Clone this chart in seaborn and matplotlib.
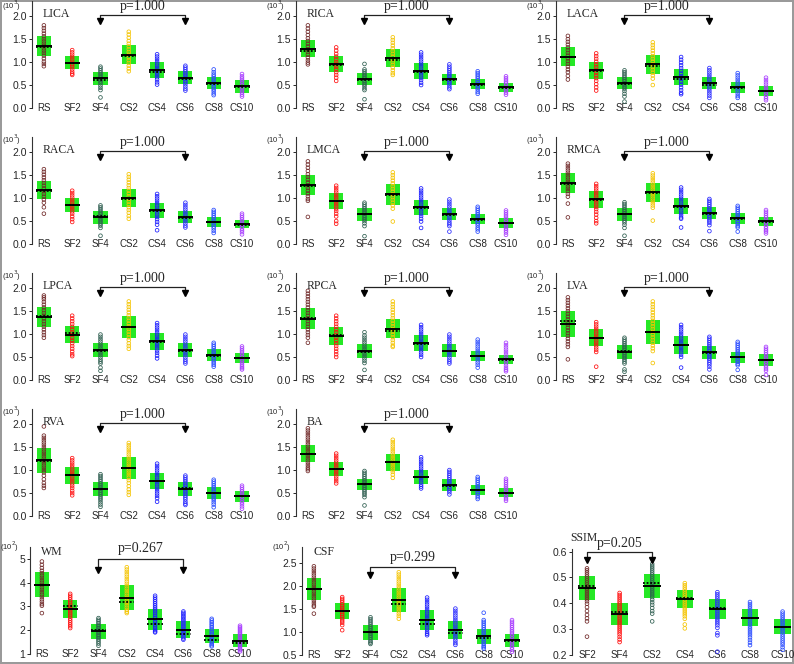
import numpy as np
import pandas as pd
import matplotlib
matplotlib.use("Agg")
import matplotlib.pyplot as plt
import seaborn as sns

sns.set_theme(style="white")
plt.rcParams["font.family"] = ["Liberation Sans", "DejaVu Sans"]

# ---------------- data ----------------
GROUPS = ["RS", "SF2", "SF4", "CS2", "CS4", "CS6", "CS8", "CS10"]
SSIM_GROUPS = ["SF2", "SF4", "CS2", "CS4", "CS6", "CS8", "CS10"]
GROUP_COLORS = ["#702828", "#ff1010", "#2e5e50", "#f5c400", "#1a1aff", "#2a2aff", "#2a4cff", "#a83cff"]
SSIM_COLORS = ["#702828", "#ff1010", "#2e5e50", "#f5c400", "#2a2aff", "#2a4cff", "#2a4cff"]

LICA_mean = [1.35, 0.99, 0.65, 1.16, 0.83, 0.66, 0.55, 0.47]
LICA_sd = [0.22, 0.15, 0.14, 0.21, 0.17, 0.14, 0.13, 0.135]
LICA_median = [1.33, 0.98, 0.62, 1.13, 0.79, 0.63, 0.52, 0.45]
LICA_points = [
    [1.80, 1.74, 1.68, 1.62, 1.56, 1.50, 1.45, 1.40, 1.35, 1.30, 1.25, 1.20, 1.14, 1.08, 1.01, 0.96, 0.91],
    [1.26, 1.21, 1.16, 1.11, 1.06, 1.01, 0.97, 0.93, 0.89, 0.84, 0.79, 0.75, 0.72],
    [0.90, 0.86, 0.82, 0.78, 0.74, 0.70, 0.66, 0.62, 0.58, 0.54, 0.49, 0.44, 0.39, 0.23],
    [1.66, 1.60, 1.53, 1.46, 1.40, 1.34, 1.28, 1.22, 1.16, 1.10, 1.04, 0.98, 0.92, 0.86, 0.80],
    [1.17, 1.12, 1.07, 1.02, 0.97, 0.92, 0.87, 0.82, 0.77, 0.72, 0.67, 0.62, 0.56, 0.51],
    [0.92, 0.88, 0.84, 0.80, 0.76, 0.72, 0.68, 0.64, 0.60, 0.56, 0.52, 0.47, 0.42, 0.38],
    [0.84, 0.78, 0.73, 0.69, 0.65, 0.61, 0.57, 0.53, 0.49, 0.45, 0.41, 0.37, 0.32, 0.28],
    [0.74, 0.69, 0.65, 0.61, 0.57, 0.53, 0.49, 0.45, 0.41, 0.37, 0.33, 0.29, 0.25],
]

RICA_mean = [1.29, 0.96, 0.63, 1.09, 0.80, 0.63, 0.52, 0.45]
RICA_sd = [0.185, 0.17, 0.125, 0.20, 0.17, 0.12, 0.105, 0.105]
RICA_median = [1.25, 0.94, 0.62, 1.05, 0.78, 0.60, 0.50, 0.44]
RICA_points = [
    [1.80, 1.73, 1.66, 1.59, 1.52, 1.46, 1.40, 1.34, 1.28, 1.22, 1.16, 1.10, 1.04, 0.99, 0.95],
    [1.32, 1.25, 1.18, 1.12, 1.06, 1.00, 0.95, 0.90, 0.84, 0.78, 0.72, 0.66, 0.59],
    [0.96, 0.84, 0.80, 0.76, 0.72, 0.68, 0.64, 0.60, 0.56, 0.52, 0.48, 0.43, 0.39, 0.19],
    [1.54, 1.48, 1.42, 1.36, 1.30, 1.24, 1.18, 1.12, 1.06, 1.00, 0.94, 0.88, 0.82, 0.76, 0.72],
    [1.21, 1.16, 1.11, 1.06, 1.01, 0.96, 0.91, 0.86, 0.81, 0.76, 0.71, 0.66, 0.61, 0.55, 0.50],
    [0.95, 0.90, 0.86, 0.82, 0.78, 0.74, 0.70, 0.66, 0.62, 0.58, 0.54, 0.50, 0.45, 0.41],
    [0.80, 0.76, 0.72, 0.68, 0.64, 0.60, 0.56, 0.52, 0.48, 0.44, 0.40, 0.35, 0.31],
    [0.69, 0.65, 0.61, 0.57, 0.53, 0.49, 0.45, 0.41, 0.37, 0.33, 0.29],
]

LACA_mean = [1.12, 0.82, 0.54, 0.95, 0.68, 0.54, 0.45, 0.37]
LACA_sd = [0.205, 0.18, 0.135, 0.20, 0.18, 0.135, 0.125, 0.11]
LACA_median = [1.10, 0.80, 0.52, 0.91, 0.64, 0.50, 0.44, 0.36]
LACA_points = [
    [1.57, 1.50, 1.44, 1.38, 1.32, 1.26, 1.20, 1.14, 1.08, 1.02, 0.96, 0.90, 0.84, 0.78, 0.70, 0.62],
    [1.19, 1.13, 1.07, 1.01, 0.95, 0.89, 0.83, 0.77, 0.71, 0.65, 0.59, 0.52, 0.45, 0.38],
    [0.82, 0.78, 0.74, 0.70, 0.66, 0.62, 0.58, 0.54, 0.50, 0.46, 0.42, 0.37, 0.31, 0.25, 0.14],
    [1.43, 1.37, 1.31, 1.25, 1.19, 1.13, 1.07, 1.01, 0.95, 0.89, 0.83, 0.77, 0.71, 0.64, 0.50],
    [1.11, 1.05, 0.99, 0.93, 0.87, 0.81, 0.75, 0.69, 0.63, 0.57, 0.51, 0.45, 0.39, 0.33, 0.30],
    [0.87, 0.82, 0.77, 0.72, 0.67, 0.62, 0.57, 0.52, 0.47, 0.42, 0.37, 0.32, 0.27, 0.22],
    [0.76, 0.71, 0.66, 0.61, 0.56, 0.51, 0.46, 0.41, 0.36, 0.31, 0.26, 0.22],
    [0.66, 0.61, 0.56, 0.51, 0.46, 0.41, 0.37, 0.33, 0.29, 0.25, 0.21, 0.17],
]

RACA_mean = [1.17, 0.85, 0.58, 1.00, 0.73, 0.59, 0.48, 0.43]
RACA_sd = [0.195, 0.16, 0.135, 0.205, 0.17, 0.135, 0.115, 0.09]
RACA_median = [1.15, 0.84, 0.60, 0.99, 0.71, 0.56, 0.47, 0.41]
RACA_points = [
    [1.63, 1.57, 1.51, 1.45, 1.39, 1.33, 1.27, 1.21, 1.15, 1.09, 1.03, 0.97, 0.90, 0.80, 0.66],
    [1.16, 1.11, 1.06, 1.01, 0.96, 0.91, 0.86, 0.81, 0.76, 0.71, 0.66, 0.60, 0.54, 0.48],
    [0.84, 0.80, 0.76, 0.72, 0.68, 0.64, 0.60, 0.56, 0.52, 0.48, 0.44, 0.40, 0.35, 0.18],
    [1.52, 1.46, 1.40, 1.34, 1.28, 1.22, 1.16, 1.10, 1.04, 0.98, 0.92, 0.86, 0.80, 0.74, 0.68, 0.61, 0.55],
    [1.09, 1.04, 0.99, 0.94, 0.89, 0.84, 0.79, 0.74, 0.69, 0.64, 0.59, 0.54, 0.48, 0.42, 0.30],
    [0.90, 0.85, 0.80, 0.75, 0.70, 0.65, 0.60, 0.55, 0.50, 0.45, 0.40, 0.36],
    [0.74, 0.70, 0.66, 0.62, 0.58, 0.54, 0.50, 0.46, 0.42, 0.38, 0.34, 0.29, 0.24],
    [0.66, 0.62, 0.58, 0.54, 0.50, 0.46, 0.42, 0.38, 0.34, 0.30, 0.26, 0.21],
]

LMCA_mean = [1.28, 0.93, 0.65, 1.08, 0.80, 0.65, 0.54, 0.46]
LMCA_sd = [0.22, 0.17, 0.14, 0.22, 0.165, 0.135, 0.105, 0.105]
LMCA_median = [1.27, 0.93, 0.65, 1.07, 0.78, 0.63, 0.53, 0.45]
LMCA_points = [
    [1.80, 1.73, 1.66, 1.59, 1.52, 1.46, 1.40, 1.34, 1.28, 1.22, 1.16, 1.10, 1.04, 0.98, 0.94, 0.59],
    [1.27, 1.22, 1.17, 1.12, 1.07, 1.02, 0.97, 0.92, 0.87, 0.82, 0.77, 0.72, 0.66, 0.60, 0.50, 0.44],
    [0.90, 0.86, 0.82, 0.78, 0.74, 0.70, 0.66, 0.62, 0.58, 0.54, 0.50, 0.45, 0.39, 0.17],
    [1.56, 1.50, 1.44, 1.38, 1.32, 1.26, 1.20, 1.14, 1.08, 1.02, 0.96, 0.90, 0.84, 0.77, 0.49],
    [1.21, 1.16, 1.11, 1.06, 1.01, 0.96, 0.91, 0.86, 0.81, 0.76, 0.71, 0.66, 0.61, 0.55, 0.49, 0.35],
    [0.97, 0.92, 0.87, 0.82, 0.77, 0.72, 0.67, 0.62, 0.57, 0.52, 0.47, 0.43, 0.39, 0.27],
    [0.81, 0.77, 0.73, 0.69, 0.65, 0.61, 0.57, 0.53, 0.49, 0.45, 0.41, 0.36, 0.32, 0.27],
    [0.73, 0.69, 0.65, 0.61, 0.57, 0.53, 0.49, 0.45, 0.41, 0.37, 0.33, 0.29, 0.25, 0.20],
]

RMCA_mean = [1.33, 0.97, 0.65, 1.13, 0.83, 0.67, 0.56, 0.49]
RMCA_sd = [0.21, 0.18, 0.14, 0.205, 0.17, 0.125, 0.115, 0.10]
RMCA_median = [1.31, 0.95, 0.65, 1.10, 0.80, 0.65, 0.55, 0.48]
RMCA_points = [
    [1.75, 1.70, 1.65, 1.60, 1.55, 1.50, 1.45, 1.40, 1.35, 1.30, 1.25, 1.20, 1.15, 1.09, 1.03, 0.88, 0.58],
    [1.31, 1.26, 1.21, 1.16, 1.11, 1.06, 1.01, 0.96, 0.91, 0.86, 0.81, 0.76, 0.70, 0.64, 0.57, 0.50, 0.45],
    [0.91, 0.87, 0.83, 0.79, 0.75, 0.71, 0.67, 0.63, 0.59, 0.55, 0.51, 0.47, 0.42, 0.35, 0.18],
    [1.54, 1.49, 1.44, 1.39, 1.34, 1.29, 1.24, 1.19, 1.14, 1.09, 1.04, 0.99, 0.94, 0.89, 0.84, 0.79, 0.51],
    [1.23, 1.18, 1.13, 1.08, 1.03, 0.98, 0.93, 0.88, 0.83, 0.78, 0.73, 0.68, 0.63, 0.58, 0.55, 0.36],
    [0.98, 0.94, 0.90, 0.86, 0.82, 0.78, 0.74, 0.70, 0.66, 0.62, 0.58, 0.54, 0.50, 0.46, 0.41, 0.28],
    [0.83, 0.79, 0.75, 0.71, 0.67, 0.63, 0.59, 0.55, 0.51, 0.47, 0.43, 0.39, 0.36, 0.27],
    [0.74, 0.70, 0.66, 0.62, 0.58, 0.54, 0.50, 0.46, 0.42, 0.38, 0.34, 0.30, 0.27, 0.23],
]

LPCA_mean = [1.37, 0.99, 0.65, 1.16, 0.84, 0.66, 0.55, 0.47]
LPCA_sd = [0.22, 0.18, 0.16, 0.24, 0.18, 0.155, 0.13, 0.11]
LPCA_median = [1.39, 1.03, 0.63, 1.15, 0.82, 0.64, 0.53, 0.47]
LPCA_points = [
    [1.84, 1.80, 1.76, 1.70, 1.64, 1.58, 1.52, 1.46, 1.40, 1.34, 1.28, 1.22, 1.16, 1.10, 1.04, 0.98, 0.92],
    [1.40, 1.34, 1.28, 1.22, 1.16, 1.10, 1.04, 0.98, 0.92, 0.86, 0.80, 0.74, 0.68, 0.62, 0.56, 0.52],
    [0.99, 0.94, 0.89, 0.84, 0.79, 0.74, 0.69, 0.64, 0.59, 0.54, 0.49, 0.44, 0.40, 0.36, 0.27, 0.20],
    [1.71, 1.65, 1.59, 1.53, 1.47, 1.41, 1.35, 1.29, 1.23, 1.17, 1.11, 1.05, 0.99, 0.93, 0.87, 0.80, 0.74, 0.68],
    [1.24, 1.19, 1.14, 1.09, 1.04, 0.99, 0.94, 0.89, 0.84, 0.79, 0.74, 0.69, 0.64, 0.59, 0.53, 0.47],
    [0.99, 0.94, 0.89, 0.84, 0.79, 0.74, 0.69, 0.64, 0.59, 0.54, 0.49, 0.44, 0.40, 0.36],
    [0.81, 0.77, 0.73, 0.69, 0.65, 0.61, 0.57, 0.53, 0.49, 0.45, 0.41, 0.37, 0.33, 0.29],
    [0.73, 0.69, 0.65, 0.61, 0.57, 0.53, 0.49, 0.45, 0.41, 0.37, 0.33, 0.29, 0.26, 0.23],
]

RPCA_mean = [1.33, 0.95, 0.63, 1.12, 0.80, 0.64, 0.52, 0.45]
RPCA_sd = [0.23, 0.195, 0.15, 0.215, 0.17, 0.14, 0.11, 0.10]
RPCA_median = [1.35, 0.97, 0.62, 1.06, 0.79, 0.63, 0.52, 0.44]
RPCA_points = [
    [1.94, 1.88, 1.82, 1.76, 1.70, 1.64, 1.58, 1.52, 1.46, 1.40, 1.34, 1.28, 1.22, 1.16, 1.10, 1.04, 0.98, 0.92, 0.81],
    [1.40, 1.34, 1.28, 1.22, 1.16, 1.10, 1.04, 0.98, 0.92, 0.86, 0.80, 0.74, 0.68, 0.62, 0.56, 0.50],
    [1.04, 0.97, 0.92, 0.87, 0.82, 0.77, 0.72, 0.67, 0.62, 0.57, 0.52, 0.47, 0.42, 0.37, 0.22],
    [1.71, 1.65, 1.59, 1.53, 1.47, 1.41, 1.35, 1.29, 1.23, 1.17, 1.11, 1.05, 0.99, 0.93, 0.87, 0.81, 0.75, 0.72],
    [1.20, 1.15, 1.10, 1.05, 1.00, 0.95, 0.90, 0.85, 0.80, 0.75, 0.70, 0.65, 0.60, 0.55, 0.50],
    [0.99, 0.94, 0.89, 0.84, 0.79, 0.74, 0.69, 0.64, 0.59, 0.54, 0.49, 0.44, 0.40, 0.36],
    [0.88, 0.83, 0.78, 0.73, 0.68, 0.63, 0.58, 0.53, 0.48, 0.43, 0.38, 0.33, 0.27],
    [0.81, 0.76, 0.71, 0.66, 0.61, 0.56, 0.51, 0.46, 0.41, 0.36, 0.31, 0.26, 0.22, 0.19],
]

LVA_mean = [1.22, 0.92, 0.61, 1.04, 0.76, 0.60, 0.50, 0.43]
LVA_sd = [0.28, 0.185, 0.16, 0.26, 0.19, 0.145, 0.12, 0.13]
LVA_median = [1.29, 0.92, 0.63, 1.04, 0.76, 0.58, 0.50, 0.43]
LVA_points = [
    [1.80, 1.74, 1.68, 1.62, 1.56, 1.50, 1.44, 1.38, 1.32, 1.26, 1.20, 1.14, 1.08, 1.02, 0.96, 0.90, 0.84, 0.78, 0.72, 0.45],
    [1.26, 1.21, 1.16, 1.11, 1.06, 1.01, 0.96, 0.91, 0.86, 0.81, 0.76, 0.71, 0.66, 0.61, 0.29],
    [0.92, 0.88, 0.84, 0.80, 0.76, 0.72, 0.68, 0.64, 0.60, 0.56, 0.52, 0.48, 0.44, 0.40, 0.36, 0.23, 0.18],
    [1.71, 1.65, 1.59, 1.53, 1.47, 1.41, 1.35, 1.29, 1.23, 1.17, 1.11, 1.05, 0.99, 0.93, 0.87, 0.81, 0.75, 0.69, 0.63, 0.37],
    [1.20, 1.15, 1.10, 1.05, 1.00, 0.95, 0.90, 0.85, 0.80, 0.75, 0.70, 0.65, 0.60, 0.55, 0.50, 0.27],
    [0.94, 0.90, 0.86, 0.82, 0.78, 0.74, 0.70, 0.66, 0.62, 0.58, 0.54, 0.50, 0.46, 0.42, 0.38, 0.34, 0.29, 0.23],
    [0.83, 0.79, 0.75, 0.71, 0.67, 0.63, 0.59, 0.55, 0.51, 0.47, 0.43, 0.39, 0.35, 0.32, 0.22],
    [0.72, 0.68, 0.64, 0.60, 0.56, 0.52, 0.48, 0.44, 0.40, 0.36, 0.32, 0.28, 0.24, 0.20, 0.11],
]

RVA_mean = [1.21, 0.89, 0.59, 1.04, 0.76, 0.59, 0.50, 0.43]
RVA_sd = [0.27, 0.185, 0.16, 0.24, 0.18, 0.145, 0.13, 0.125]
RVA_median = [1.20, 0.89, 0.59, 1.04, 0.77, 0.61, 0.51, 0.44]
RVA_points = [
    [1.95, 1.75, 1.70, 1.65, 1.60, 1.55, 1.50, 1.45, 1.40, 1.35, 1.30, 1.25, 1.20, 1.15, 1.10, 1.05, 1.00, 0.95, 0.88, 0.80, 0.72, 0.66, 0.61],
    [1.26, 1.21, 1.16, 1.11, 1.06, 1.01, 0.96, 0.91, 0.86, 0.81, 0.76, 0.71, 0.66, 0.61, 0.55, 0.50, 0.45],
    [0.91, 0.87, 0.83, 0.79, 0.75, 0.71, 0.67, 0.63, 0.59, 0.55, 0.51, 0.47, 0.43, 0.39, 0.35, 0.30, 0.25, 0.20],
    [1.59, 1.54, 1.49, 1.44, 1.39, 1.34, 1.29, 1.24, 1.19, 1.14, 1.09, 1.04, 0.99, 0.94, 0.89, 0.84, 0.78, 0.72, 0.65, 0.58, 0.52, 0.46],
    [1.14, 1.09, 1.04, 0.99, 0.94, 0.89, 0.84, 0.79, 0.74, 0.69, 0.64, 0.59, 0.54, 0.49, 0.44, 0.39, 0.31],
    [0.88, 0.84, 0.80, 0.76, 0.72, 0.68, 0.64, 0.60, 0.56, 0.52, 0.48, 0.44, 0.40, 0.36, 0.31, 0.27, 0.24],
    [0.79, 0.75, 0.71, 0.67, 0.63, 0.59, 0.55, 0.51, 0.47, 0.43, 0.39, 0.35, 0.30, 0.25, 0.19],
    [0.66, 0.62, 0.58, 0.54, 0.50, 0.46, 0.42, 0.38, 0.34, 0.30, 0.26, 0.21, 0.16],
]

BA_mean = [1.36, 1.02, 0.69, 1.17, 0.85, 0.68, 0.57, 0.51]
BA_sd = [0.19, 0.15, 0.125, 0.185, 0.155, 0.125, 0.105, 0.105]
BA_median = [1.34, 1.02, 0.69, 1.17, 0.85, 0.66, 0.57, 0.51]
BA_points = [
    [1.91, 1.86, 1.81, 1.76, 1.71, 1.66, 1.61, 1.56, 1.51, 1.46, 1.41, 1.36, 1.31, 1.26, 1.21, 1.16, 1.11, 1.06, 1.02, 0.98],
    [1.36, 1.31, 1.26, 1.21, 1.16, 1.11, 1.06, 1.01, 0.96, 0.91, 0.86, 0.81, 0.76, 0.71],
    [0.98, 0.94, 0.90, 0.86, 0.82, 0.78, 0.74, 0.70, 0.66, 0.62, 0.58, 0.54, 0.50, 0.46, 0.41, 0.23],
    [1.66, 1.61, 1.56, 1.51, 1.46, 1.41, 1.36, 1.31, 1.26, 1.21, 1.16, 1.11, 1.06, 1.01, 0.96, 0.90, 0.83],
    [1.28, 1.23, 1.18, 1.13, 1.08, 1.03, 0.98, 0.93, 0.88, 0.83, 0.78, 0.73, 0.68, 0.64, 0.60],
    [1.00, 0.96, 0.92, 0.88, 0.84, 0.80, 0.76, 0.72, 0.68, 0.64, 0.60, 0.56, 0.52, 0.47],
    [0.85, 0.81, 0.77, 0.73, 0.69, 0.65, 0.61, 0.57, 0.53, 0.49, 0.45, 0.41, 0.37],
    [0.81, 0.77, 0.73, 0.69, 0.65, 0.61, 0.57, 0.53, 0.49, 0.45, 0.41, 0.37, 0.33],
]

WM_mean = [3.91, 2.89, 1.95, 3.37, 2.46, 2.02, 1.75, 1.56]
WM_sd = [0.52, 0.385, 0.315, 0.54, 0.44, 0.35, 0.295, 0.28]
WM_median = [3.91, 3.00, 2.02, 3.17, 2.26, 1.85, 1.60, 1.46]
WM_points = [
    [4.89, 4.75, 4.62, 4.50, 4.40, 4.30, 4.20, 4.10, 4.00, 3.90, 3.80, 3.70, 3.60, 3.50, 3.40, 3.30, 3.20, 3.10, 3.03, 2.72],
    [3.53, 3.45, 3.37, 3.29, 3.21, 3.13, 3.05, 2.97, 2.89, 2.81, 2.73, 2.65, 2.57, 2.49, 2.41, 2.33, 2.25, 2.17, 2.09],
    [2.51, 2.44, 2.37, 2.30, 2.23, 2.16, 2.09, 2.02, 1.95, 1.88, 1.81, 1.74, 1.67, 1.60, 1.52, 1.44, 1.35],
    [4.65, 4.55, 4.45, 4.35, 4.25, 4.15, 4.05, 3.95, 3.85, 3.75, 3.65, 3.55, 3.45, 3.35, 3.25, 3.15, 3.05, 2.95, 2.85, 2.78, 2.72],
    [3.45, 3.37, 3.29, 3.21, 3.13, 3.05, 2.97, 2.89, 2.81, 2.73, 2.65, 2.57, 2.49, 2.41, 2.33, 2.25, 2.17, 2.09, 2.01, 1.95, 1.91],
    [2.79, 2.73, 2.67, 2.61, 2.55, 2.49, 2.43, 2.37, 2.31, 2.25, 2.19, 2.13, 2.07, 2.01, 1.95, 1.89, 1.83, 1.77, 1.71, 1.65, 1.60],
    [2.48, 2.41, 2.34, 2.27, 2.20, 2.13, 2.06, 1.99, 1.92, 1.85, 1.78, 1.71, 1.64, 1.57, 1.50, 1.43, 1.37, 1.32],
    [2.19, 2.13, 2.07, 2.01, 1.95, 1.89, 1.83, 1.77, 1.71, 1.65, 1.59, 1.53, 1.47, 1.41, 1.35, 1.29, 1.23, 1.17, 1.11],
]

CSF_mean = [1.94, 1.46, 0.99, 1.69, 1.26, 1.04, 0.91, 0.82]
CSF_sd = [0.235, 0.17, 0.155, 0.26, 0.225, 0.19, 0.165, 0.145]
CSF_median = [1.94, 1.45, 0.99, 1.60, 1.17, 0.97, 0.86, 0.81]
CSF_points = [
    [2.43, 2.38, 2.33, 2.28, 2.23, 2.18, 2.13, 2.08, 2.03, 1.98, 1.93, 1.88, 1.83, 1.78, 1.73, 1.68, 1.63, 1.58, 1.55, 1.40],
    [1.76, 1.72, 1.68, 1.64, 1.60, 1.56, 1.52, 1.48, 1.44, 1.40, 1.36, 1.32, 1.28, 1.24, 1.20, 1.15, 1.04],
    [1.32, 1.28, 1.24, 1.20, 1.16, 1.12, 1.08, 1.04, 1.00, 0.96, 0.92, 0.88, 0.84, 0.80, 0.77, 0.74],
    [2.30, 2.25, 2.20, 2.15, 2.10, 2.05, 2.00, 1.95, 1.90, 1.85, 1.80, 1.75, 1.70, 1.65, 1.60, 1.55, 1.50, 1.45, 1.40, 1.35, 1.29],
    [1.75, 1.70, 1.65, 1.60, 1.55, 1.50, 1.45, 1.40, 1.35, 1.30, 1.25, 1.20, 1.15, 1.10, 1.05, 1.00, 0.96, 0.93],
    [1.51, 1.46, 1.41, 1.36, 1.31, 1.26, 1.21, 1.16, 1.11, 1.06, 1.01, 0.96, 0.91, 0.86, 0.81, 0.76, 0.72],
    [1.42, 1.26, 1.22, 1.18, 1.14, 1.10, 1.06, 1.02, 0.98, 0.94, 0.90, 0.86, 0.82, 0.78, 0.74, 0.70, 0.67, 0.64],
    [1.26, 1.22, 1.18, 1.14, 1.10, 1.06, 1.02, 0.98, 0.94, 0.90, 0.86, 0.82, 0.78, 0.74, 0.70, 0.66, 0.62, 0.57],
]

SSIM_mean = [0.458, 0.359, 0.467, 0.417, 0.377, 0.345, 0.310]
SSIM_sd = [0.046, 0.044, 0.046, 0.034, 0.038, 0.033, 0.029]
SSIM_median = [0.468, 0.368, 0.477, 0.419, 0.381, 0.345, 0.310]
SSIM_points = [
    [0.535, 0.528, 0.520, 0.512, 0.504, 0.496, 0.488, 0.480, 0.472, 0.464, 0.456, 0.448, 0.440, 0.432, 0.424, 0.416, 0.408, 0.398, 0.385, 0.370, 0.355, 0.342, 0.330, 0.271],
    [0.440, 0.432, 0.424, 0.416, 0.408, 0.400, 0.392, 0.384, 0.376, 0.368, 0.360, 0.352, 0.344, 0.336, 0.328, 0.320, 0.312, 0.304, 0.296, 0.288, 0.280, 0.270, 0.260, 0.250],
    [0.552, 0.544, 0.536, 0.528, 0.520, 0.512, 0.504, 0.496, 0.488, 0.480, 0.472, 0.464, 0.456, 0.448, 0.440, 0.432, 0.424, 0.414, 0.404, 0.394, 0.382, 0.370, 0.360, 0.330],
    [0.478, 0.470, 0.462, 0.454, 0.446, 0.438, 0.430, 0.422, 0.414, 0.406, 0.398, 0.390, 0.382, 0.374, 0.366, 0.358, 0.350, 0.340, 0.318, 0.303],
    [0.443, 0.435, 0.427, 0.419, 0.411, 0.403, 0.395, 0.387, 0.379, 0.371, 0.363, 0.355, 0.347, 0.339, 0.331, 0.323, 0.315, 0.305, 0.285, 0.276, 0.213],
    [0.405, 0.397, 0.389, 0.381, 0.373, 0.365, 0.357, 0.349, 0.341, 0.333, 0.325, 0.317, 0.309, 0.301, 0.293, 0.285, 0.277, 0.268, 0.258, 0.248, 0.238],
    [0.368, 0.360, 0.352, 0.344, 0.336, 0.328, 0.320, 0.312, 0.304, 0.296, 0.288, 0.280, 0.272, 0.264, 0.256, 0.248, 0.240, 0.230, 0.220],
]

P_TEXT = {"LICA": "p=1.000", "RICA": "p=1.000", "LACA": "p=1.000", "RACA": "p=1.000",
          "LMCA": "p=1.000", "RMCA": "p=1.000", "LPCA": "p=1.000", "RPCA": "p=1.000",
          "LVA": "p=1.000", "RVA": "p=1.000", "BA": "p=1.000", "WM": "p=0.267",
          "CSF": "p=0.299", "SSIM": "p=0.205"}

# ---------------- styling / layout ----------------
W, H = 794, 664
GREEN = "#25e825"
SERIF = ["Liberation Serif", "DejaVu Serif"]

fig = plt.figure(figsize=(W / 100, H / 100), dpi=100)


def px_rect(left, bottom, width, height):
    return [left / W, 1 - bottom / H, width / W, height / H]


def draw_panel(rect, name, groups, colors, mean, sd, med, pts, ylim, yticks, yfmt,
               xlim, bracket, br_y, tip_y, p_y, exp_label, title_xy, exp_y=0.95):
    ax = fig.add_axes(rect)
    x = np.arange(1, len(groups) + 1)
    mean = np.asarray(mean)
    sd = np.asarray(sd)
    med = np.asarray(med)
    rows = [(xi, v, g) for xi, g, p in zip(x, groups, pts) for v in p]
    df = pd.DataFrame(rows, columns=["x", "value", "group"])

    ax.bar(x, 2 * sd, bottom=mean - sd, width=0.5, color=GREEN, linewidth=0, zorder=1)
    sns.scatterplot(data=df, x="x", y="value", hue="group", hue_order=groups,
                    palette=dict(zip(groups, colors)), s=7, legend=False, ax=ax, zorder=2)
    coll = ax.collections[-1]
    fc = coll.get_facecolors()
    coll.set_edgecolors(fc)
    coll.set_facecolors("none")
    coll.set_linewidths(0.55)
    ax.hlines(med, x - 0.27, x + 0.27, colors="black", lw=1.3, linestyles=(0, (1, 1)), zorder=3)
    ax.hlines(mean, x - 0.27, x + 0.27, colors="black", lw=1.4, zorder=4)

    # bracket with arrows
    b1, b2 = bracket
    ax.plot([b1, b1, b2, b2], [tip_y, br_y, br_y, tip_y], color="#222222", lw=0.9,
            clip_on=False, zorder=5)
    ax.plot([b1, b2], [tip_y, tip_y], ls="none", marker="v", ms=4.5, color="black",
            clip_on=False, zorder=5)
    ax.text((b1 + b2) / 2, p_y, P_TEXT[name], ha="center", va="center",
            family=SERIF, fontsize=10, clip_on=False)
    ax.text(title_xy[0], title_xy[1], name, transform=ax.transAxes, ha="left",
            va="center", family=SERIF, fontsize=8.5, clip_on=False)
    if exp_label:
        ax.text(-0.05, exp_y, exp_label, transform=ax.transAxes, ha="right",
                va="center", fontsize=5.5)

    ax.set_xlim(*xlim)
    ax.set_ylim(*ylim)
    ax.set_yticks(yticks)
    ax.set_yticklabels([yfmt.format(t) for t in yticks])
    ax.set_xticks(x)
    ax.set_xticklabels(groups)
    ax.set_xlabel("")
    ax.set_ylabel("")
    sns.despine(ax=ax, top=True, right=True, bottom=True)
    ax.spines["left"].set_color("#333333")
    ax.spines["left"].set_linewidth(0.8)
    ax.tick_params(axis="x", length=0, pad=-3.5, labelsize=7)
    ax.tick_params(axis="y", direction="out", length=2, width=0.7, pad=1.5,
                   labelsize=7.5, left=True)
    ax.set_facecolor("none")
    ax.grid(False)
    return ax


cols = [32, 296, 556]
rows_bottom = [108, 244, 380, 516]
upper = [
    ("LICA", LICA_mean, LICA_sd, LICA_median, LICA_points),
    ("RICA", RICA_mean, RICA_sd, RICA_median, RICA_points),
    ("LACA", LACA_mean, LACA_sd, LACA_median, LACA_points),
    ("RACA", RACA_mean, RACA_sd, RACA_median, RACA_points),
    ("LMCA", LMCA_mean, LMCA_sd, LMCA_median, LMCA_points),
    ("RMCA", RMCA_mean, RMCA_sd, RMCA_median, RMCA_points),
    ("LPCA", LPCA_mean, LPCA_sd, LPCA_median, LPCA_points),
    ("RPCA", RPCA_mean, RPCA_sd, RPCA_median, RPCA_points),
    ("LVA", LVA_mean, LVA_sd, LVA_median, LVA_points),
    ("RVA", RVA_mean, RVA_sd, RVA_median, RVA_points),
    ("BA", BA_mean, BA_sd, BA_median, BA_points),
]
for i, (name, m, s, md, p) in enumerate(upper):
    r, c = divmod(i, 3)
    draw_panel(px_rect(cols[c], rows_bottom[r], 225, 107), name, GROUPS, GROUP_COLORS,
               m, s, md, p, (0, 2.33), [0, 0.5, 1.0, 1.5, 2.0], "{:.1f}",
               (0.58, 8.53), (3, 6), 2.02, 1.9, 2.21, r"(10$^3$)", (0.045, 0.88),
               exp_y=0.955 if r == 0 else 0.975)

draw_panel(px_rect(30, 654, 225, 107), "WM", GROUPS, GROUP_COLORS,
           WM_mean, WM_sd, WM_median, WM_points, (1, 5.5), [1, 2, 3, 4, 5], "{:.0f}",
           (0.58, 8.53), (3, 6), 5.0, 4.55, 5.42, r"(10$^2$)", (0.05, 0.95), exp_y=1.0)
draw_panel(px_rect(302, 655, 225, 108), "CSF", GROUPS, GROUP_COLORS,
           CSF_mean, CSF_sd, CSF_median, CSF_points, (0.5, 2.85), [0.5, 1.0, 1.5, 2.0, 2.5], "{:.1f}",
           (0.58, 8.53), (3, 6), 2.41, 2.24, 2.62, r"(10$^2$)", (0.05, 0.95), exp_y=1.0)
draw_panel(px_rect(572, 655, 222, 106), "SSIM", SSIM_GROUPS, SSIM_COLORS,
           SSIM_mean, SSIM_sd, SSIM_median, SSIM_points, (0.2, 0.61), [0.2, 0.3, 0.4, 0.5, 0.6], "{:.1f}",
           (0.54, 7.35), (1, 3), 0.597, 0.568, 0.632, None, (-0.01, 1.1))

fig.patch.set_facecolor("white")
fig.patch.set_edgecolor("#9a9a9a")
fig.patch.set_linewidth(1.5)
fig.savefig("out.png", dpi=100, facecolor="white", edgecolor=fig.get_edgecolor())
